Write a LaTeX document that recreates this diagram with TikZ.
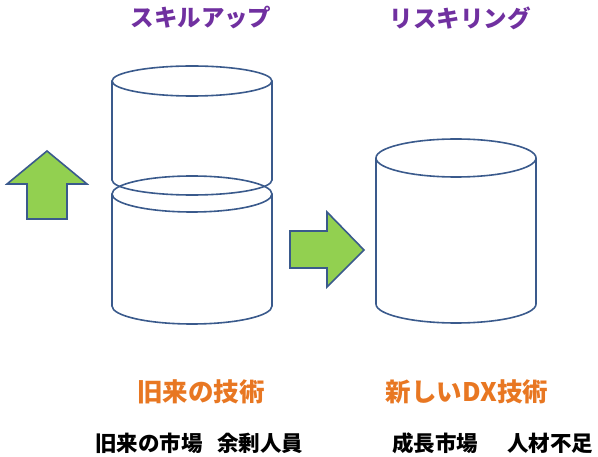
\documentclass[tikz,border=0pt]{standalone}
\usepackage{fontspec}
\newfontfamily\jp{Noto Sans CJK JP}
\usepackage{tikz}
\usetikzlibrary{positioning}
\definecolor{drumblue}{HTML}{3A5A8C}
\definecolor{arrowgreen}{HTML}{92D050}
\definecolor{titlepurple}{HTML}{7030A0}
\definecolor{techorange}{HTML}{E87722}
\tikzset{
  drum/.style={draw=drumblue, line width=1.6pt},
  bigarrow/.style={draw=drumblue, fill=arrowgreen, line width=1.6pt, line join=miter},
  title/.style={font=\jp\bfseries\fontsize{23.5}{28}\selectfont, text=titlepurple, inner sep=0pt},
  tech/.style={font=\jp\bfseries\fontsize{25.5}{30}\selectfont, text=techorange, inner sep=0pt},
  market/.style={font=\jp\bfseries\fontsize{21.5}{25}\selectfont, text=black, inner sep=0pt},
}
% drum: center x, top y, bottom y, y radius
\newcommand{\drumcyl}[4]{%
  \draw[drum] (#1,#2) ellipse [x radius=80, y radius=#4];
  \draw[drum] (#1-80,#2) -- (#1-80,#3) arc[start angle=180, end angle=0, x radius=80, y radius=#4] -- (#1+80,#2);
}
\begin{document}
\begin{tikzpicture}[x=1pt, y=-1pt]
  \useasboundingbox (0,0) rectangle (598,457);

  % titles
  \node[title] (skillup) at (201,18) {スキルアップ};
  \node[title] (reskill) at (460,18) {リスキリング};

  % drums
  \drumcyl{192}{194}{306}{18}
  \drumcyl{192}{81}{180}{15}
  \drumcyl{456}{158}{304}{19}

  % arrows
  \draw[bigarrow] (47,151) -- (87,184) -- (67,184) -- (67,219) -- (27,219) -- (27,184) -- (7,184) -- cycle;
  \draw[bigarrow] (364,250) -- (327,287) -- (327,268) -- (290,268) -- (290,231) -- (327,231) -- (327,212) -- cycle;

  % labels
  \node[tech] (oldtech) at (201,392) {旧来の技術};
  \node[tech] (newtech) at (467,392) {新しいDX技術};
  \node[market] (oldmarket) at (149,443) {旧来の市場};
  \node[market] (surplus) at (260,443) {余剰人員};
  \node[market] (growth) at (435,443) {成長市場};
  \node[market] (shortage) at (550,443) {人材不足};
\end{tikzpicture}
\end{document}
